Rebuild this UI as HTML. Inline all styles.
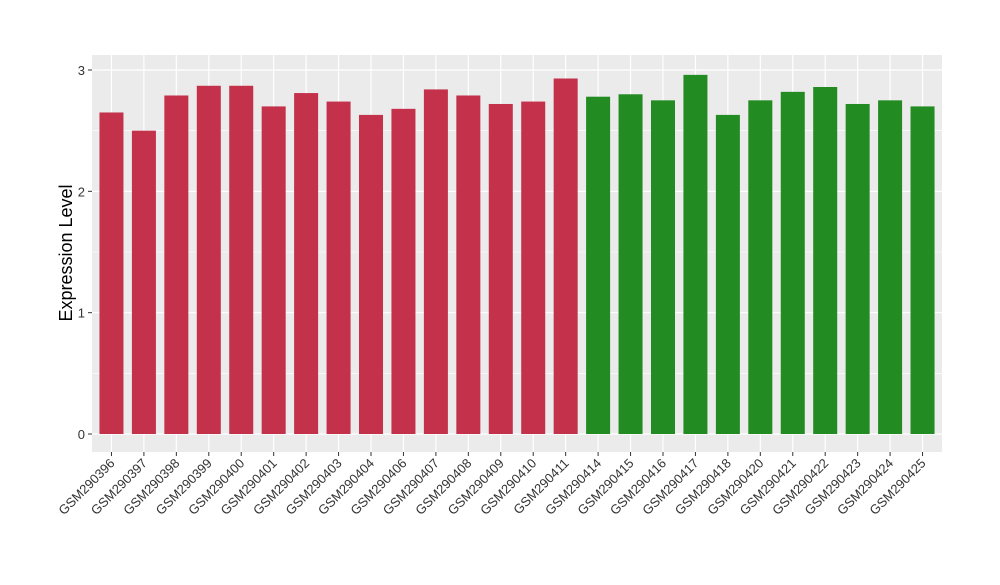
<!DOCTYPE html>
<html><head><meta charset="utf-8"><style>
body{margin:0;background:#fff;}
svg text{font-family:"Liberation Sans",sans-serif;}
</style></head><body>
<svg id="chart" width="1000" height="580" xmlns="http://www.w3.org/2000/svg"></svg>
<script>
const categories=["GSM290396","GSM290397","GSM290398","GSM290399","GSM290400","GSM290401","GSM290402","GSM290403","GSM290404","GSM290406","GSM290407","GSM290408","GSM290409","GSM290410","GSM290411","GSM290414","GSM290415","GSM290416","GSM290417","GSM290418","GSM290420","GSM290421","GSM290422","GSM290423","GSM290424","GSM290425"];
const values=[2.65,2.50,2.79,2.87,2.87,2.70,2.81,2.74,2.63,2.68,2.84,2.79,2.72,2.74,2.93,2.78,2.80,2.75,2.96,2.63,2.75,2.82,2.86,2.72,2.75,2.70];
const groups=[0,0,0,0,0,0,0,0,0,0,0,0,0,0,0,1,1,1,1,1,1,1,1,1,1,1];
const yTicks=[0,1,2,3];
const colors=["#c3314a","#228b22"];
const svg=document.getElementById('chart');
const NS="http://www.w3.org/2000/svg";
const px0=92,px1=942,py0=55,py1=452;
const y0px=434,unit=121.33;
const y=v=>y0px-v*unit;
const step=(px1-px0)/(categories.length+0.2);
const x=i=>px0+step*(0.6+i);
function mk(t,a,p){const e=document.createElementNS(NS,t);for(const k in a)e.setAttribute(k,a[k]);(p||svg).appendChild(e);return e;}
const bg=mk('rect',{x:px0,y:py0,width:px1-px0,height:py1-py0,fill:'#ebebeb'});


for(let v=0.5;v<3.2;v+=1){const l=mk('line',{x1:px0,x2:px1,y1:y(v),y2:y(v),stroke:'#fff','stroke-width':0.6});

}
yTicks.forEach(v=>{const l=mk('line',{x1:px0,x2:px1,y1:y(v),y2:y(v),stroke:'#fff','stroke-width':1.2});


const tk=mk('line',{x1:px0-4,x2:px0,y1:y(v),y2:y(v),stroke:'#333','stroke-width':1});


const t=mk('text',{x:px0-7,y:y(v)+5,'text-anchor':'end','font-size':13,fill:'#333'});t.textContent=v;

});
categories.forEach((c,i)=>{const cx=x(i);
const g=mk('line',{x1:cx,x2:cx,y1:py0,y2:py1,stroke:'#fff','stroke-width':1.2});


const bw=step*0.74;
const b=mk('rect',{x:cx-bw/2,y:y(values[i]),width:bw,height:y(0)-y(values[i]),fill:colors[groups[i]]});


const tk=mk('line',{x1:cx,x2:cx,y1:py1,y2:py1+4,stroke:'#333','stroke-width':1});


const t=mk('text',{x:cx+4,y:py1+12,'text-anchor':'end','font-size':13,fill:'#333',transform:`rotate(-45 ${cx+4} ${py1+12})`});t.textContent=c;

});
const yt=mk('text',{x:72,y:253,'text-anchor':'middle','font-size':18,fill:'#000',transform:'rotate(-90 72 253)'});yt.textContent='Expression Level';


</script>
</body></html>
